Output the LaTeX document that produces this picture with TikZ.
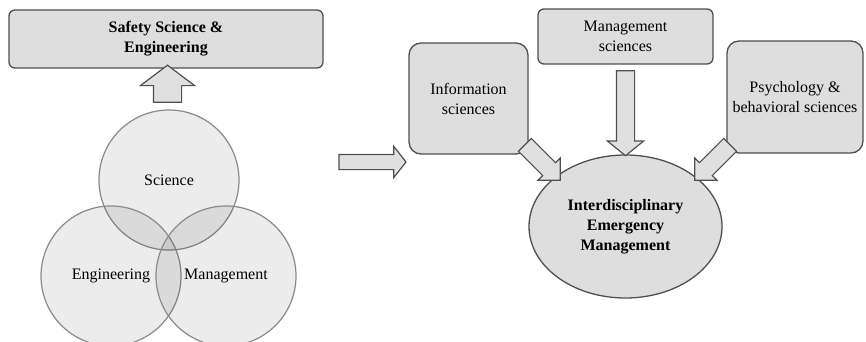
\documentclass[tikz,border=0pt]{standalone}
\usepackage{fontspec}
\setmainfont{Liberation Serif}
\usepackage{tikz}
\usetikzlibrary{positioning,shapes.geometric,shapes.arrows,calc}
\definecolor{ink}     {HTML}{505050}
\definecolor{ring}    {HTML}{8A8A8A}
\definecolor{boxfill} {HTML}{DEDEDE}
\definecolor{arrfill} {HTML}{E0E0E0}
\tikzset{
  every node/.style={font=\fontsize{8}{10}\selectfont},
  % --- nodes
  panel/.style = {rectangle, rounded corners=3pt, draw=ink, fill=boxfill,
                  line width=0.65pt, align=center, inner sep=0pt},
  tile/.style  = {panel, rounded corners=6pt},
  hub/.style   = {ellipse, draw=ink, fill=boxfill, line width=0.65pt,
                  align=center, inner sep=0pt,
                  font=\fontsize{8}{10}\selectfont\bfseries},
  disc/.style  = {circle, draw=ring, fill=black, fill opacity=0.075,
                  text opacity=1, draw opacity=1, line width=0.6pt,
                  minimum size=70pt, inner sep=0pt},
  % --- block arrows
  blk/.style   = {single arrow, draw=ink, fill=arrfill, line width=0.6pt,
                  inner xsep=0pt, minimum width=0pt},
}
\begin{document}
\begin{tikzpicture}[x=0.5pt,y=-0.5pt]
  \useasboundingbox (0,0) rectangle (866,342);
  % left: the three fields
  \node[panel, minimum width=157pt, minimum height=29pt,
        font=\fontsize{8}{10}\selectfont\bfseries] (safety) at (166,39)
        {Safety Science \&\\Engineering};
  \node[disc] (sci) at (169,180) {Science};
  \node[disc] (eng) at (111,276) {Engineering};
  \node[disc] (mgt) at (226,276) {Management};
  \path (sci.north) -- node[blk, rotate=90, minimum height=18.5pt,
        inner ysep=6.75pt, single arrow head extend=6.5pt,
        single arrow tip angle=106] (up) {} (safety.south);
  % middle
  \node[blk, minimum height=33.5pt, inner ysep=3.5pt,
        single arrow head extend=4pt, single arrow tip angle=104]
        (go) at (369.5,162) {};
  % right: the contributing sciences
  \node[tile, minimum width=59.5pt, minimum height=55.5pt] (info) at (468.5,98.5)
        {Information\\sciences};
  \node[panel, minimum width=87.5pt, minimum height=27.5pt] (msci) at (625.5,36.5)
        {Management\\sciences};
  \node[tile, minimum width=68pt, minimum height=56pt] (psy) at (795,97)
        {Psychology \&\\behavioral sciences};
  \node[hub, minimum width=96.5pt, minimum height=71.5pt] (iem) at (625.5,226.5)
        {Interdisciplinary\\Emergency\\Management};
  \path (msci.south) -- node[blk, rotate=-90, minimum height=42.5pt,
        inner ysep=4.25pt, single arrow head extend=4.5pt,
        single arrow tip angle=102] (down) {} (iem.north);
  \node[blk, rotate=-45, minimum height=25pt, inner ysep=4.25pt,
        single arrow head extend=3.25pt, single arrow tip angle=90]
        (dl) at (539.3,159.3) {};
  \node[blk, rotate=-135, minimum height=25pt, inner ysep=4.25pt,
        single arrow head extend=3.25pt, single arrow tip angle=90]
        (dr) at (715.7,159.3) {};
\end{tikzpicture}
\end{document}
